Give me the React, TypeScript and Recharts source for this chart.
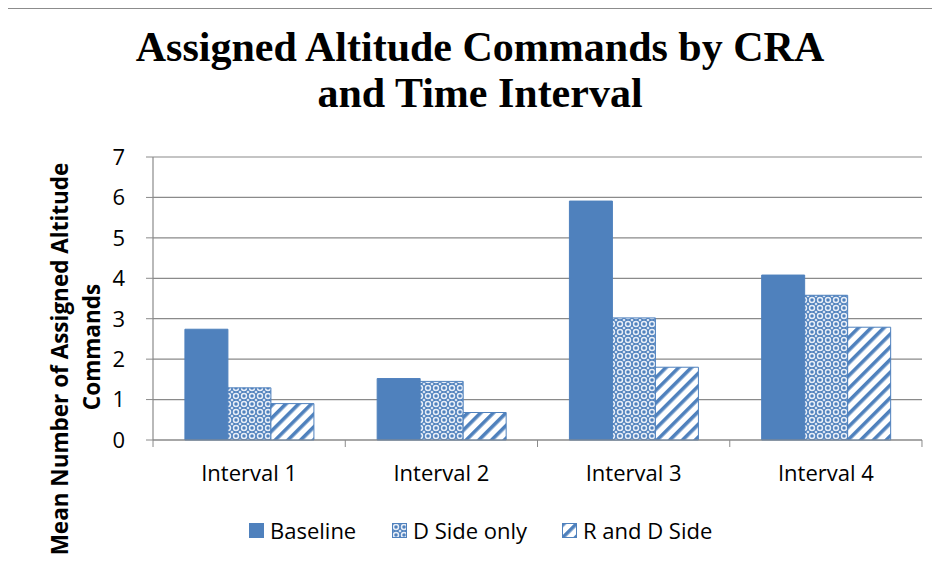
import React from 'react';
import {
  BarChart,
  Bar,
  XAxis,
  YAxis,
  CartesianGrid,
  Legend
} from 'recharts';

const categories = ['Interval 1', 'Interval 2', 'Interval 3', 'Interval 4'];
const baseline = [2.74, 1.52, 5.91, 4.08];
const dSideOnly = [1.29, 1.45, 3.02, 3.58];
const rAndDSide = [0.9, 0.68, 1.8, 2.79];
const yTicks = [0, 1, 2, 3, 4, 5, 6, 7];

const BLUE = '#4F81BD';
const GRID = '#8a8a8a';
const FONT = '"Open Sans", "Noto Sans", sans-serif';

const data = categories.map((name, i) => ({
  name,
  baseline: baseline[i],
  dSide: dSideOnly[i],
  rdSide: rAndDSide[i]
}));

const series = [
  { key: 'baseline', label: 'Baseline', fill: BLUE, left: 249 },
  { key: 'dSide', label: 'D Side only', fill: 'url(#dotDiamond)', left: 392 },
  { key: 'rdSide', label: 'R and D Side', fill: 'url(#wideUpDiag)', left: 562 }
];

const Patterns = () => (
  <defs>
    <pattern id="dotDiamond" width="8" height="8" patternUnits="userSpaceOnUse">
      <rect width="8" height="8" fill={BLUE} />
      <circle cx="4" cy="4" r="2.5" fill="none" stroke="#e8eef7" strokeWidth="1.5" />
      <path d="M0 0 L1.6 0 L0 1.6 Z M8 0 L6.4 0 L8 1.6 Z M0 8 L1.6 8 L0 6.4 Z M8 8 L6.4 8 L8 6.4 Z" fill="#e8eef7" />
    </pattern>
    <pattern
      id="wideUpDiag"
      width="9"
      height="9"
      patternUnits="userSpaceOnUse"
      patternTransform="rotate(45)"
    >
      <rect width="9" height="9" fill="#ffffff" />
      <rect width="3.6" height="9" fill={BLUE} />
    </pattern>
  </defs>
);

// category labels with Excel-style tick marks on the category boundaries
const CategoryTick = (props: any) => {
  const { x, y, payload, index } = props;
  const half = 96.1;
  return (
    <g>
      <line x1={x - half} y1={y - 8} x2={x - half} y2={y - 1} stroke={GRID} />
      {index === categories.length - 1 && (
        <line x1={x + half} y1={y - 8} x2={x + half} y2={y - 1} stroke={GRID} />
      )}
      <text x={x} y={y + 33} textAnchor="middle" fontSize={22} fill="#000" fontFamily={FONT}>
        {payload.value}
      </text>
    </g>
  );
};

const YTitle = () => (
  <g fontSize={22.5} fontWeight="bold" fill="#000" fontFamily={FONT} textAnchor="middle">
    <text transform="translate(68, 359) rotate(-90)">Mean Number of Assigned Altitude</text>
    <text transform="translate(100, 347) rotate(-90)">Commands</text>
  </g>
);

const LegendContent = () => (
  <div style={{ position: 'relative', height: 30, fontFamily: FONT, fontSize: 22, color: '#000' }}>
    {series.map((s) => (
      <div
        key={s.key}
        style={{ position: 'absolute', left: s.left, top: 0, height: 30, display: 'flex', alignItems: 'center', whiteSpace: 'nowrap' }}
      >
        <svg width={15} height={15} style={{ marginRight: 6 }}>
          <Patterns />
          <rect x={0.5} y={0.5} width={14} height={14} fill={s.fill} stroke={BLUE} />
        </svg>
        <span>{s.label}</span>
      </div>
    ))}
  </div>
);

const App = () => {
  return (
    <div style={{ position: 'relative', width: 940, height: 565, margin: -8, overflow: 'hidden', background: '#fff' }}>
      <div
        style={{
          position: 'absolute',
          left: 4,
          top: 8,
          width: 960,
          height: 600,
          border: '1px solid #8c8c8c'
        }}
      />
      <div
        style={{
          position: 'absolute',
          left: 0,
          top: 24,
          width: 960,
          textAlign: 'center',
          fontFamily: '"Liberation Serif", "DejaVu Serif", serif',
          fontWeight: 'bold',
          fontSize: 42,
          lineHeight: '46px',
          color: '#000'
        }}
      >
        Assigned Altitude Commands by CRA
        <br />
        and Time Interval
      </div>
      <div style={{ position: 'absolute', left: 0, top: 0 }}>
        <BarChart
          width={940}
          height={565}
          data={data}
          margin={{ top: 157, right: 18, left: 93, bottom: 20 }}
          barCategoryGap="16.6%"
          barGap={0}
        >
          <Patterns />
          <CartesianGrid horizontal vertical={false} stroke={GRID} strokeWidth={1.2} />
          <XAxis
            dataKey="name"
            height={75}
            axisLine={{ stroke: GRID, strokeWidth: 1.2 }}
            tickLine={false}
            tick={<CategoryTick />}
            interval={0}
          />
          <YAxis
            width={60}
            domain={[0, 7]}
            ticks={yTicks}
            interval={0}
            axisLine={{ stroke: GRID, strokeWidth: 1.2 }}
            tickLine={{ stroke: GRID }}
            tickSize={7}
            tickMargin={21}
            tick={{ fontSize: 22, fill: '#000', fontFamily: FONT }}
            label={<YTitle />}
          />
          <Legend
            verticalAlign="bottom"
            height={30}
            content={<LegendContent />}
            wrapperStyle={{ left: 0, width: 940 }}
          />
          {series.map((s) => (
            <Bar
              key={s.key}
              dataKey={s.key}
              name={s.label}
              fill={s.fill}
              stroke={BLUE}
              strokeWidth={1}
              isAnimationActive={false}
            />
          ))}
        </BarChart>
      </div>
    </div>
  );
};

export default App;
